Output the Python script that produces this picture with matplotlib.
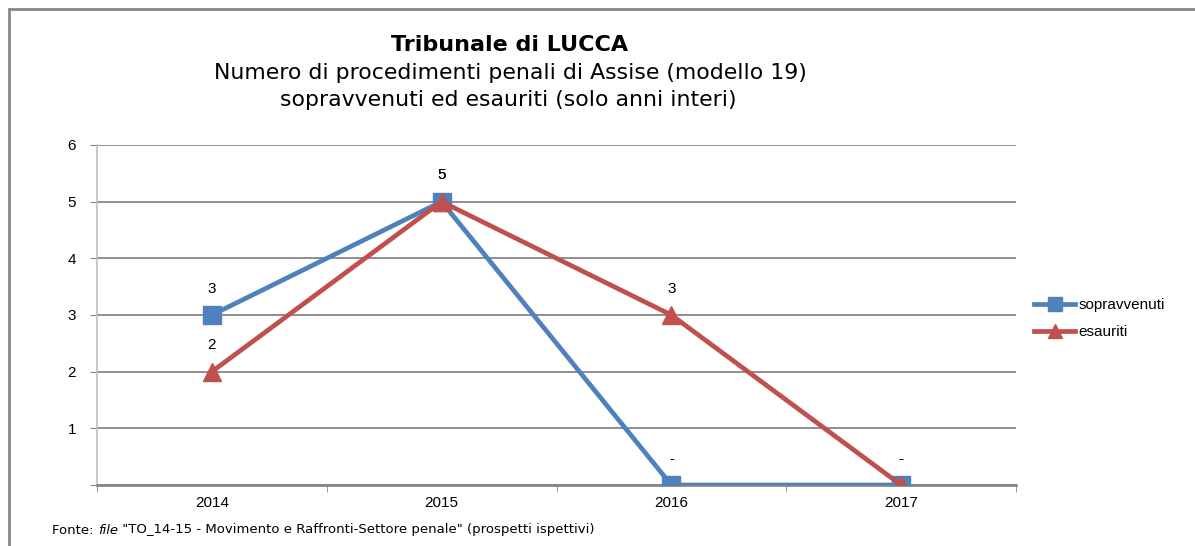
import matplotlib.pyplot as plt
from matplotlib.patches import Rectangle
from matplotlib.lines import Line2D

# ============================================
# Data
# ============================================
anni = ['2014', '2015', '2016', '2017']
sopravvenuti = [3, 5, 0, 0]
esauriti = [2, 5, 3, 0]
y_ticks = [0, 1, 2, 3, 4, 5, 6]

BLUE = '#4F81BD'
RED = '#C0504D'
GRID = '#868686'

plt.rcParams['font.family'] = ['Liberation Sans', 'DejaVu Sans']

fig = plt.figure(figsize=(11.95, 5.46), dpi=100)
ax = fig.add_axes([97 / 1195, 61 / 546, (1016 - 97) / 1195, (485 - 145) / 546])

x = range(len(anni))
ax.plot(x, sopravvenuti, color=BLUE, lw=3.4, marker='s', ms=13,
        label='sopravvenuti', zorder=3)
ax.plot(x, esauriti, color=RED, lw=3.4, marker='^', ms=13,
        label='esauriti', zorder=4)

# data labels ("-" for zero, as in the Excel format)
for serie in (sopravvenuti, esauriti):
    for i, v in enumerate(serie):
        txt = '-' if v == 0 else str(v)
        ax.annotate(txt, (i, v), xytext=(0, 19), textcoords='offset points',
                    ha='center', va='center', fontsize=11, color='black')

ax.set_xlim(-0.5, len(anni) - 0.5)
ax.set_ylim(0, 6)
ax.set_xticks(list(x))
ax.set_xticklabels(anni, fontsize=11)
ax.set_xticks([i - 0.5 for i in range(len(anni) + 1)], minor=True)
ax.tick_params(axis='x', which='major', length=0, pad=8)
ax.tick_params(axis='x', which='minor', length=5, color=GRID, direction='out')
ax.set_yticks(y_ticks)
ax.set_yticklabels(['' if t == 0 else str(t) for t in y_ticks], fontsize=11)
ax.tick_params(axis='y', length=5, color=GRID, direction='out', pad=10)

ax.grid(axis='y', color=GRID, lw=1.3)
ax.set_axisbelow(True)
for side in ('top', 'right'):
    ax.spines[side].set_visible(False)
ax.spines['left'].set_color('#BFBFBF')
ax.spines['left'].set_linewidth(1.2)
ax.spines['bottom'].set_color(GRID)
ax.spines['bottom'].set_linewidth(2)

handles = [Line2D([], [], color=BLUE, lw=3.4, marker='s', ms=10),
           Line2D([], [], color=RED, lw=3.4, marker='^', ms=10)]
fig.legend(handles, ['sopravvenuti', 'esauriti'], loc='upper left',
           bbox_to_anchor=(1028 / 1195, 1 - 292 / 546), frameon=False,
           fontsize=11, handlelength=2.7, handletextpad=0.2,
           labelspacing=0.85, borderaxespad=0)

# titles
fig.text(510 / 1195, 1 - 45 / 546, 'Tribunale di LUCCA', ha='center',
         va='center', fontsize=16, fontweight='bold', family='DejaVu Sans')
fig.text(510 / 1195, 1 - 73 / 546,
         'Numero di procedimenti penali di Assise (modello 19)',
         ha='center', va='center', fontsize=15.8, family='DejaVu Sans')
fig.text(508 / 1195, 1 - 100 / 546,
         'sopravvenuti ed esauriti (solo anni interi)',
         ha='center', va='center', fontsize=15.8, family='DejaVu Sans')

# source note with italic "file"
fig.canvas.draw()
renderer = fig.canvas.get_renderer()
pieces = [('Fonte: ', 'normal'), ('file', 'italic'),
          (' "TO_14-15 - Movimento e Raffronti-Settore penale" (prospetti ispettivi)',
           'normal')]
xpos = 52
for s, style in pieces:
    t = fig.text(xpos / 1195, 1 - 530 / 546, s, ha='left', va='center',
                 fontsize=9.5, style=style, family='DejaVu Sans')
    xpos += t.get_window_extent(renderer).width

# outer chart frame
fig.patches.append(Rectangle((9 / 1195, -0.1), 1.2, 1 - 9 / 546 + 0.1,
                             transform=fig.transFigure, fill=False,
                             edgecolor=GRID, lw=2))

fig.savefig('out.png', dpi=100)
